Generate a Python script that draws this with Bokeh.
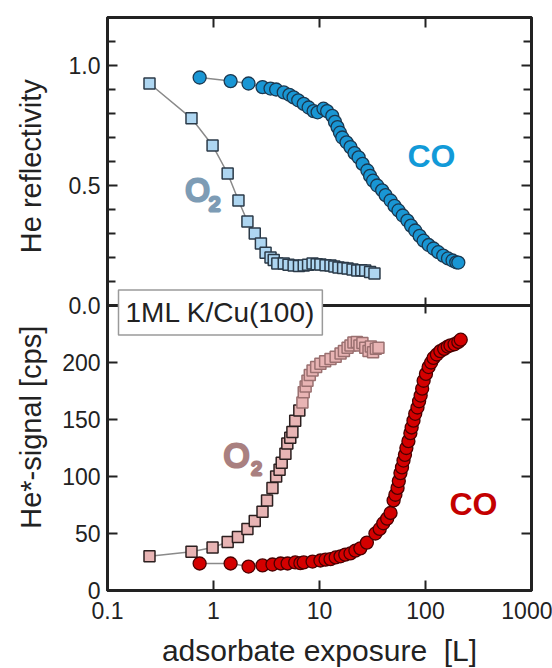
import numpy as np
from bokeh.plotting import figure
from bokeh.models import (Range1d, LinearAxis, LogAxis, FixedTicker,
                          CustomJSTickFormatter, Label, Span)
from bokeh.embed import file_html
from bokeh.resources import INLINE

# ---------------- data ----------------
# top panel: He reflectivity
co_top_x = [0.74, 1.45, 2.14, 2.9, 3.45, 3.9, 4.6, 5.2, 5.7, 6.3, 7.1, 7.9, 8.8, 9.6,
            10.9, 11.8, 13.2, 14.0, 14.8, 15.6, 16.4, 18.0, 19.6, 21.4, 23.4, 25.5,
            28.3, 30.0, 32, 35, 39, 42, 46.8, 51, 55.6, 61, 67.5, 73, 80, 88, 96,
            107, 119, 132, 147, 163, 180, 195, 204]
co_top_y = [0.95, 0.935, 0.925, 0.91, 0.904, 0.90, 0.888, 0.878, 0.867, 0.855, 0.84,
            0.825, 0.81, 0.805, 0.82, 0.81, 0.79, 0.765, 0.743, 0.72, 0.70, 0.68,
            0.66, 0.635, 0.617, 0.59, 0.5625, 0.54, 0.52, 0.50, 0.48, 0.46, 0.4375,
            0.415, 0.396, 0.375, 0.354, 0.333, 0.3125, 0.29, 0.27, 0.252, 0.2375,
            0.222, 0.208, 0.196, 0.1875, 0.18, 0.179]

o2_top_x = [0.249, 0.62, 0.98, 1.36, 1.72, 2.09, 2.45, 2.8, 3.1, 3.45, 3.7, 4.0, 4.6,
            5.1, 5.7, 6.4, 7.1, 7.8, 8.6, 9.4, 10.2, 11.4, 12.7, 13.8, 15.1, 16.7,
            18.4, 20.5, 22.7, 24.8, 27, 30, 33]
o2_top_y = [0.925, 0.78, 0.667, 0.55, 0.4375, 0.35, 0.30, 0.258, 0.22, 0.20, 0.19,
            0.175, 0.175, 0.17, 0.167, 0.165, 0.167, 0.17, 0.175, 0.172, 0.171,
            0.168, 0.167, 0.162, 0.158, 0.156, 0.154, 0.15, 0.146, 0.147, 0.146,
            0.14, 0.133]

# bottom panel: He*-signal [cps]
o2_bot_x = [0.249, 0.62, 0.98, 1.36, 1.70, 2.09, 2.45, 2.9, 3.2, 3.6, 3.9, 4.2, 4.4,
            4.77, 4.97, 5.3, 5.55, 5.9, 6.45, 6.9, 7.1, 7.4, 7.7, 8.1, 8.6, 9.3,
            10.2, 11.3, 12.7, 14.2, 15.8, 17.0, 18.4, 19.6, 20.9, 22.5, 23.8, 25.4,
            27, 29, 30.5, 32, 34, 36]
o2_bot_y = [30, 34, 37.7, 42.5, 47, 54, 61, 69, 79, 90, 100, 106, 112, 120, 129, 134,
            139, 149, 158, 165, 174, 179, 184, 189, 193, 196, 199, 201, 203, 205,
            208, 210, 213, 215, 217.5, 218, 215, 217, 213, 210, 214, 209, 212, 213]

co_bot_x = [0.74, 1.45, 2.14, 2.9, 3.6, 4.3, 5.0, 5.9, 6.6, 7.1, 8.6, 10.2, 11.4, 12.7,
            14.2, 15.8, 17.5, 19.6, 21.8, 24.3, 28, 33.7, 37, 40, 43.5, 46.8, 50, 52,
            54.5, 56, 58, 60, 62, 64, 66, 69, 72, 74, 77, 80, 84, 87, 90, 93, 96,
            101, 107, 113, 119, 128, 138, 150, 162, 172, 188, 204, 215]
co_bot_y = [23.7, 23.7, 21, 22, 22.8, 23.7, 23.7, 24.6, 24, 24.6, 25.4, 26.3, 27,
            27.5, 29, 30, 31.5, 32.5, 35, 37, 42, 50, 54, 59, 63, 68, 79, 84, 90,
            96, 103, 108, 114, 119, 125, 131, 138, 143, 149, 155, 160.5, 166, 171,
            177, 184, 190, 196, 200, 204, 207, 210, 212, 214, 215, 216, 218, 220]

x_ticks = [0.1, 1, 10, 100, 1000]
top_ticks = [0.0, 0.5, 1.0]
top_minor = [0.1, 0.2, 0.3, 0.4, 0.6, 0.7, 0.8, 0.9, 1.1]
bot_ticks = [0, 50, 100, 150, 200]

TOP_MAX = 1.2
BOT_MAX = 250.0

# ---------------- layout ----------------
FW, FH = 424, 573
BOT_H = 285                      # pixel height of the lower panel
frac = BOT_H / FH
y_end = BOT_MAX / frac           # main (lower-panel) range covers whole frame
k = (y_end - BOT_MAX) / TOP_MAX  # main units per top unit

FONT = "Liberation Sans"
INK = "#222222"
NB = "\u00a0"

p = figure(frame_width=FW, frame_height=FH, x_axis_type="log",
           x_range=Range1d(0.1, 1000), y_range=Range1d(0, y_end),
           output_backend="svg", toolbar_location=None,
           min_border_left=107, min_border_right=21, min_border_top=17,
           min_border_bottom=78)
p.extra_y_ranges = {"top": Range1d(-TOP_MAX * frac / (1 - frac), TOP_MAX)}
p.grid.visible = False
p.outline_line_color = INK
p.outline_line_width = 3
p.background_fill_color = "white"
p.border_fill_color = "white"

major_y = bot_ticks + [BOT_MAX + v * k for v in top_ticks]
minor_y = [BOT_MAX + v * k for v in top_minor]

def style(ax):
    ax.axis_line_color = INK
    ax.axis_line_width = 3
    ax.major_tick_in = 10
    ax.major_tick_out = 0
    ax.minor_tick_in = 8
    ax.minor_tick_out = 0
    ax.major_tick_line_width = 2
    ax.minor_tick_line_width = 2
    ax.major_tick_line_color = INK
    ax.minor_tick_line_color = INK
    ax.major_label_text_font = FONT
    ax.major_label_text_font_size = "23px"
    ax.major_label_text_color = INK

empty = CustomJSTickFormatter(code="return '';")

ly = p.yaxis[0]
ly.ticker = FixedTicker(ticks=major_y, minor_ticks=minor_y)
ly.formatter = CustomJSTickFormatter(args=dict(d=BOT_MAX, k=k),
    code="return tick >= d - 1e-6 ? ((tick - d) / k).toFixed(1) : tick.toFixed(0);")
style(ly)
ly.major_label_standoff = 7
# one rotated label carrying both panel titles (lower one first, read bottom-up)
ly.axis_label = "He*-signal [cps]" + NB * 9 + "He reflectivity"
ly.axis_label_text_font = FONT
ly.axis_label_text_font_style = "normal"
ly.axis_label_text_font_size = "29px"
ly.axis_label_text_color = INK
ly.axis_label_standoff = 12

ry = LinearAxis(ticker=FixedTicker(ticks=major_y, minor_ticks=minor_y), formatter=empty)
style(ry)
ry.major_label_standoff = 0
ry.major_label_text_font_size = "0px"
p.add_layout(ry, "right")

bx = p.xaxis[0]
bx.ticker = FixedTicker(ticks=x_ticks, minor_ticks=[])
bx.formatter = CustomJSTickFormatter(code="return String(tick);")
style(bx)
bx.major_label_standoff = 11
bx.axis_label = "adsorbate exposure " + NB + "[L]"
bx.axis_label_text_font = FONT
bx.axis_label_text_font_style = "normal"
bx.axis_label_text_font_size = "30px"
bx.axis_label_text_color = INK
bx.axis_label_standoff = 12

tx = LogAxis(ticker=FixedTicker(ticks=x_ticks[1:-1], minor_ticks=[]), formatter=empty)
style(tx)
tx.major_label_standoff = 0
tx.major_label_text_font_size = "0px"
p.add_layout(tx, "above")

# divider between the two panels, with its ticks
p.add_layout(Span(location=BOT_MAX, dimension="width", line_color=INK, line_width=3))
p.segment(x0=x_ticks[1:-1], x1=x_ticks[1:-1], y0=[BOT_MAX - 7] * 3,
          y1=[BOT_MAX + 7] * 3, line_color=INK, line_width=2)

# ---------------- series ----------------
GREY = "#8a8a8a"
p.line(o2_top_x, o2_top_y, y_range_name="top", line_color=GREY, line_width=1.5)
p.line(co_top_x, co_top_y, y_range_name="top", line_color=GREY, line_width=1.5)
p.scatter(o2_top_x, o2_top_y, y_range_name="top", marker="square", size=11,
          fill_color="#aed6f1", line_color="#2b3a48", line_width=1.5)
p.scatter(co_top_x, co_top_y, y_range_name="top", marker="circle", size=13,
          fill_color="#1996d4", line_color="#1b3850", line_width=1.3)

p.line(o2_bot_x, o2_bot_y, line_color=GREY, line_width=1.5)
p.line(co_bot_x, co_bot_y, line_color=GREY, line_width=1.5)
o2b_line = ["#2b1f1f" if v < 160 else "#9a7070" for v in o2_bot_y]
p.scatter(o2_bot_x, o2_bot_y, marker="square", size=11,
          fill_color="#e8b4b4", line_color=o2b_line, line_width=1.5)
p.scatter(co_bot_x, co_bot_y, marker="circle", size=13,
          fill_color="#d40000", line_color="#4a0000", line_width=1.3)

# ---------------- annotations ----------------
def lab(text, x, y, size, color, outline=None, bold=False, align="center", **kw):
    l = Label(x=x, y=y, x_units="screen", y_units="screen", text=text,
              text_font=FONT, text_font_size=size, text_color=color,
              text_font_style="bold" if bold else "normal",
              text_align=align, text_baseline="middle", **kw)
    if outline:
        l.text_outline_color = outline
    p.add_layout(l)
    return l

lab("CO", 324, 435, "32px", "#129ad8", bold=True)
lab("CO", 366, 87, "32px", "#c40000", bold=True)
lab("O", 90, 400, "31px", "#b3daf2", outline="#7d9cb5")
lab("2", 107, 387, "21px", "#b3daf2", outline="#7d9cb5")
lab("O", 129, 135, "33px", "#e6b3b3", outline="#a98080")
lab("2", 149, 122, "19px", "#e6b3b3", outline="#a98080")

lab("1ML K/Cu(100)", 11, 278, "28px", INK, align="left",
    background_fill_color="white", border_line_color="#9a9a9a",
    border_line_width=1.5, padding=7)

open("out.html", "w").write(file_html(p, INLINE))
